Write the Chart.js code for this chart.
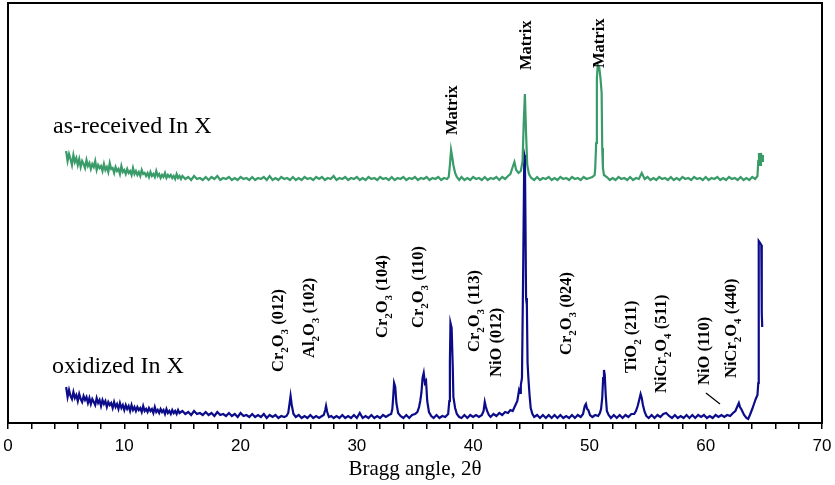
<!DOCTYPE html>
<html>
<head>
<meta charset="utf-8">
<script src="https://cdn.jsdelivr.net/npm/chart.js@4.4.0/dist/chart.umd.min.js"></script>
<style>
  html, body { margin: 0; padding: 0; background: #fff; }
  #wrap { width: 835px; height: 485px; position: relative; }
</style>
</head>
<body>
<div id="wrap"><canvas id="xrd-chart"></canvas></div>
<script>
// Data (intensity in arbitrary units)
const receivedAngles = [
  5, 5.125, 5.25, 5.375, 5.5, 5.625, 5.75, 5.875,
  6, 6.125, 6.25, 6.375, 6.5, 6.625, 6.75, 6.875,
  7, 7.125, 7.25, 7.375, 7.5, 7.625, 7.75, 7.875,
  8, 8.125, 8.25, 8.375, 8.5, 8.625, 8.75, 8.875,
  9, 9.125, 9.25, 9.375, 9.5, 9.625, 9.75, 9.875,
  10, 10.125, 10.25, 10.375, 10.5, 10.625, 10.75, 10.875,
  11, 11.125, 11.25, 11.375, 11.5, 11.625, 11.75, 11.875,
  12, 12.125, 12.25, 12.375, 12.5, 12.625, 12.75, 12.875,
  13, 13.125, 13.25, 13.375, 13.5, 13.625, 13.75, 13.875,
  14, 14.125, 14.25, 14.375, 14.5, 14.625, 14.75, 14.875,
  15, 15.25, 15.5, 15.75, 16, 16.25, 16.5, 16.75,
  17, 17.25, 17.5, 17.75, 18, 18.25, 18.5, 18.75,
  19, 19.25, 19.5, 19.75, 20, 20.25, 20.5, 20.75,
  21, 21.25, 21.5, 21.75, 22, 22.25, 22.5, 22.75,
  23, 23.25, 23.5, 23.75, 24, 24.25, 24.5, 24.75,
  25, 25.25, 25.5, 25.75, 26, 26.25, 26.5, 26.75,
  27, 27.25, 27.5, 27.75, 28, 28.25, 28.5, 28.75,
  29, 29.25, 29.5, 29.75, 30, 30.25, 30.5, 30.75,
  31, 31.25, 31.5, 31.75, 32, 32.25, 32.5, 32.75,
  33, 33.25, 33.5, 33.75, 34, 34.25, 34.5, 34.75,
  35, 35.25, 35.5, 35.75, 36, 36.25, 36.5, 36.75,
  37, 37.25, 37.5, 37.75,
  37.9, 38.0, 38.1, 38.2, 38.3, 38.45, 38.6, 38.8,
  39, 39.25, 39.5, 39.75, 40, 40.25, 40.5, 40.75,
  41, 41.25, 41.5, 41.75, 42, 42.25, 42.5, 42.75,
  43.0, 43.2, 43.4, 43.55, 43.7, 43.9, 44.1, 44.25, 44.35, 44.45, 44.55, 44.65, 44.8, 45.0,
  45.25, 45.5, 45.75, 46, 46.25, 46.5, 46.75, 47,
  47.25, 47.5, 47.75, 48, 48.25, 48.5, 48.75, 49,
  49.25, 49.5, 49.75, 50, 50.25,
  50.45, 50.5, 50.58, 50.64, 50.72, 50.85, 50.95, 51.05, 51.1, 51.16, 51.25,
  51.5, 51.75, 52, 52.25, 52.5, 52.75, 53, 53.25,
  53.5, 53.75, 54, 54.25, 54.5, 54.75, 55, 55.25,
  55.5, 55.75, 56, 56.25, 56.5, 56.75, 57, 57.25,
  57.5, 57.75, 58, 58.25, 58.5, 58.75, 59, 59.25,
  59.5, 59.75, 60, 60.25, 60.5, 60.75, 61, 61.25,
  61.5, 61.75, 62, 62.25, 62.5, 62.75, 63, 63.25,
  63.5, 63.75, 64, 64.25,
  64.45, 64.52, 64.58, 64.68, 64.75, 64.85, 64.92
];
const receivedCounts = [
  272, 262, 269, 264, 258, 268, 261, 265,
  258, 264, 256, 262, 259, 255, 263, 257,
  260, 254, 259, 256, 262, 253, 258, 255,
  257, 252, 259, 253, 256, 251, 260, 254,
  255, 250, 256, 252, 254, 249, 257, 251,
  253, 249, 254, 250, 252, 248, 255, 249,
  252, 248, 251, 247, 253, 249, 250, 247,
  250, 246, 251, 247, 249, 246, 252, 247,
  249, 245, 248, 246, 250, 245, 248, 246,
  248, 245, 247, 244, 249, 245, 247, 244,
  247, 244, 246, 243, 247, 244, 245, 243,
  246, 243, 246, 244, 247, 243, 245, 244,
  246, 243, 245, 243, 246, 244, 245, 243,
  246, 243, 245, 244, 246, 243, 247, 243,
  245, 243, 246, 244, 245, 243, 246, 243,
  245, 243, 246, 244, 245, 243, 246, 244,
  246, 243, 245, 244, 247, 243, 245, 244,
  246, 243, 245, 244, 246, 243, 245, 243,
  246, 244, 245, 243, 246, 244, 245, 243,
  246, 243, 245, 244, 246, 243, 245, 244,
  246, 243, 245, 244, 246, 243, 245, 244,
  246, 243, 245, 244,
  246, 258, 273, 266, 258, 250, 246, 243,
  246, 243, 245, 243, 246, 244, 245, 243,
  246, 243, 245, 244, 246, 243, 246, 244,
  247, 249, 256, 261, 253, 250, 252, 262, 300, 329, 290, 258, 249, 245,
  243, 246, 243, 245, 244, 246, 243, 245,
  243, 246, 244, 245, 243, 246, 244, 245,
  243, 246, 244, 245, 246,
  248, 255, 280, 345, 358, 355, 345, 330, 275, 255, 248,
  246, 243, 245, 243, 246, 244, 245, 243,
  246, 243, 245, 244, 250, 244, 246, 243,
  245, 243, 246, 244, 245, 243, 246, 243,
  245, 243, 246, 244, 245, 243, 246, 244,
  245, 243, 246, 243, 245, 244, 246, 243,
  245, 243, 246, 244, 245, 243, 246, 243,
  245, 243, 246, 244,
  247, 262, 270, 258, 270, 262, 268
];

const oxidizedAngles = [
  5, 5.125, 5.25, 5.375, 5.5, 5.625, 5.75, 5.875,
  6, 6.125, 6.25, 6.375, 6.5, 6.625, 6.75, 6.875,
  7, 7.125, 7.25, 7.375, 7.5, 7.625, 7.75, 7.875,
  8, 8.125, 8.25, 8.375, 8.5, 8.625, 8.75, 8.875,
  9, 9.125, 9.25, 9.375, 9.5, 9.625, 9.75, 9.875,
  10, 10.125, 10.25, 10.375, 10.5, 10.625, 10.75, 10.875,
  11, 11.125, 11.25, 11.375, 11.5, 11.625, 11.75, 11.875,
  12, 12.125, 12.25, 12.375, 12.5, 12.625, 12.75, 12.875,
  13, 13.125, 13.25, 13.375, 13.5, 13.625, 13.75, 13.875,
  14, 14.125, 14.25, 14.375, 14.5, 14.625, 14.75, 14.875,
  15, 15.25, 15.5, 15.75, 16, 16.25, 16.5, 16.75,
  17, 17.25, 17.5, 17.75, 18, 18.25, 18.5, 18.75,
  19, 19.25, 19.5, 19.75, 20, 20.25, 20.5, 20.75,
  21, 21.25, 21.5, 21.75, 22, 22.25, 22.5, 22.75,
  23, 23.25, 23.5, 23.75,
  23.95, 24.1, 24.22, 24.3, 24.4, 24.55, 24.75,
  25, 25.25, 25.5, 25.75, 26, 26.25, 26.5, 26.75, 27,
  27.15, 27.28, 27.35, 27.45, 27.6, 27.8,
  28, 28.25, 28.5, 28.75, 29, 29.25, 29.5, 29.75,
  30, 30.25, 30.5, 30.75, 31, 31.25, 31.5, 31.75,
  32, 32.25, 32.5, 32.75,
  32.95, 33.05, 33.12, 33.2, 33.3, 33.4, 33.55, 33.75,
  34, 34.25, 34.5, 34.75, 35,
  35.2, 35.35, 35.45, 35.55, 35.65, 35.75, 35.85, 35.95, 36.05, 36.2, 36.4,
  36.6, 36.85, 37.1, 37.35, 37.6, 37.85,
  37.95, 38.0, 38.05, 38.15, 38.25, 38.3, 38.45, 38.6, 38.8,
  39, 39.25, 39.5, 39.75, 40, 40.25, 40.5, 40.75,
  40.9, 41.0, 41.1, 41.2, 41.35,
  41.5, 41.75, 42, 42.25, 42.5, 42.75, 43, 43.2,
  43.4, 43.6, 43.8, 43.95, 44.05, 44.1, 44.2, 44.3, 44.4, 44.45, 44.5, 44.55, 44.62, 44.68, 44.75, 44.85, 44.95, 45.1,
  45.25, 45.5, 45.75, 46, 46.25, 46.5, 46.75, 47,
  47.25, 47.5, 47.75, 48, 48.25, 48.5, 48.75, 49,
  49.25,
  49.45, 49.6, 49.7, 49.8, 49.9, 50.05,
  50.25, 50.5, 50.75, 50.9,
  51.0, 51.1, 51.18, 51.25, 51.32, 51.4, 51.5, 51.65,
  51.85, 52.1, 52.35, 52.6, 52.85, 53.1, 53.35, 53.6, 53.85,
  54.0, 54.15, 54.3, 54.4, 54.5, 54.6, 54.75, 54.9,
  55.1, 55.35, 55.6, 55.85, 56.1, 56.35, 56.6, 56.85,
  57.1, 57.35, 57.6, 57.85, 58.1, 58.35, 58.6, 58.85,
  59.1, 59.35, 59.6, 59.85, 60.1, 60.35, 60.6, 60.85,
  61.1, 61.35, 61.6, 61.85, 62.1, 62.35,
  62.55, 62.7, 62.85, 62.95, 63.1, 63.3, 63.5, 63.65, 63.8, 64.0,
  64.15, 64.3, 64.45, 64.52, 64.56, 64.68, 64.78, 64.82, 64.86
];
const oxidizedCounts = [
  36, 26, 33, 27, 24, 31, 25, 28,
  22, 29, 24, 21, 27, 23, 26, 20,
  25, 19, 24, 21, 18, 25, 20, 23,
  17, 23, 19, 22, 16, 21, 18, 20,
  15, 21, 16, 19, 14, 20, 15, 18,
  13, 18, 14, 17, 12, 18, 13, 16,
  12, 16, 13, 15, 11, 17, 12, 14,
  11, 15, 12, 14, 10, 16, 11, 13,
  10, 14, 11, 13, 9, 14, 10, 12,
  9, 13, 10, 12, 9, 13, 10, 11,
  12, 9, 11, 8, 12, 9, 10, 8,
  11, 8, 10, 7, 11, 8, 9, 7,
  10, 7, 9, 6, 10, 7, 8, 6,
  9, 6, 8, 6, 9, 5, 8, 6,
  8, 5, 7, 6,
  7, 10, 20, 27, 18, 9, 6,
  8, 5, 7, 5, 8, 5, 7, 5, 7,
  8, 13, 17, 11, 6, 7,
  5, 7, 5, 8, 5, 7, 5, 8,
  5, 10, 5, 7, 5, 8, 5, 7,
  5, 8, 6, 8,
  9, 14, 25, 40, 36, 20, 10, 7,
  5, 8, 5, 8, 9,
  11, 16, 22, 30, 45, 50, 40, 42, 22, 11, 7,
  5, 8, 5, 7, 6, 9,
  22, 60, 100, 95, 55, 26, 15, 9, 6,
  5, 8, 5, 8, 6, 8, 6, 8,
  12, 21, 16, 12, 8,
  6, 9, 7, 10, 8, 11, 10, 13,
  12, 17, 22, 33, 30, 38, 45, 150, 268, 265, 200, 125, 118, 60, 45, 28, 15, 9,
  6, 8, 5, 8, 5, 8, 5, 8,
  5, 8, 5, 7, 5, 8, 5, 8,
  6,
  9, 17, 19, 14, 13, 8,
  6, 8, 7, 10,
  14, 25, 45, 53, 48, 28, 12, 8,
  5, 8, 5, 8, 5, 8, 6, 9, 9,
  12, 17, 24, 29, 25, 18, 11, 7,
  5, 8, 5, 8, 6, 9, 10, 7,
  5, 8, 5, 7, 5, 8, 5, 8,
  5, 8, 6, 8, 5, 7, 5, 8,
  6, 8, 6, 8, 7, 10,
  12, 16, 20, 16, 13, 8, 5, 4, 8, 14,
  19, 24, 28, 40, 182, 180, 178, 110, 96
];

// Axis ticks
const majorTicks = [0, 10, 20, 30, 40, 50, 60, 70];

// Phase labels (text, angle of text baseline, intensity where text starts)
const phaseLabels = ["Cr_2O_3 (012)", "Al_2O_3 (102)", "Cr_2O_3 (104)", "Cr_2O_3 (110)", "Cr_2O_3 (113)",
  "NiO (012)", "Cr_2O_3 (024)", "TiO_2 (211)", "NiCr_2O_4 (511)", "NiO (110)", "NiCr_2O_4 (440)",
  "Matrix", "Matrix", "Matrix"];
const phaseLabelAngles = [23.65, 26.31, 32.59, 35.69, 40.50, 42.40, 48.42, 54.00, 56.58, 60.28, 62.61, 38.61, 44.98, 51.25];
const phaseLabelHeights = [51, 65, 85, 95, 71, 46, 68, 50, 30, 38, 45, 288, 353, 355];

const seriesNames = ["as-received In X", "oxidized In X"];
const seriesNameAngles = [3.87, 3.78];
const seriesNameHeights = [290, 50];

const greenColor = "#389b68";
const blueColor = "#0c0c8a";

function toPoints(xs, ys) {
  return xs.map((x, i) => ({ x, y: ys[i] }));
}

// rotated label with "_n" subscripts
function drawVerticalLabel(ctx, text, px, py, size) {
  ctx.save();
  ctx.translate(px, py);
  ctx.rotate(-Math.PI / 2);
  ctx.fillStyle = "#000";
  ctx.textBaseline = "alphabetic";
  ctx.textAlign = "left";
  let cx = 0;
  for (const part of text.split(/(_\d)/)) {
    if (!part) continue;
    if (part[0] === "_") {
      ctx.font = `bold ${Math.round(size * 0.66)}px "Liberation Serif"`;
      ctx.fillText(part[1], cx, size * 0.3);
      cx += ctx.measureText(part[1]).width;
    } else {
      ctx.font = `bold ${size}px "Liberation Serif"`;
      ctx.fillText(part, cx, 0);
      cx += ctx.measureText(part).width;
    }
  }
  ctx.restore();
}

const decorPlugin = {
  id: "decor",
  afterDraw(chart) {
    const { ctx, chartArea: a, scales: { x, y } } = chart;
    ctx.save();
    // frame
    ctx.strokeStyle = "#000";
    ctx.lineWidth = 2;
    ctx.strokeRect(a.left, a.top, a.right - a.left, a.bottom - a.top);

    // series names
    ctx.fillStyle = "#000";
    ctx.font = '24px "Liberation Serif"';
    ctx.textBaseline = "alphabetic";
    seriesNames.forEach((name, i) => {
      ctx.fillText(name, x.getPixelForValue(seriesNameAngles[i]), y.getPixelForValue(seriesNameHeights[i]));
    });

    // phase labels
    phaseLabels.forEach((txt, i) => {
      drawVerticalLabel(ctx, txt, x.getPixelForValue(phaseLabelAngles[i]), y.getPixelForValue(phaseLabelHeights[i]), 16.5);
    });

    // pointer for NiO (110)
    ctx.strokeStyle = "#000";
    ctx.lineWidth = 1.2;
    ctx.beginPath();
    ctx.moveTo(x.getPixelForValue(60.02), y.getPixelForValue(30));
    ctx.lineTo(x.getPixelForValue(61.23), y.getPixelForValue(19));
    ctx.stroke();
    ctx.restore();
  }
};

new Chart(document.getElementById("xrd-chart"), {
  type: "line",
  data: {
    datasets: [
      {
        label: seriesNames[0],
        data: toPoints(receivedAngles, receivedCounts),
        borderColor: greenColor,
        borderWidth: 2.2,
        pointRadius: 0,
        tension: 0
      },
      {
        label: seriesNames[1],
        data: toPoints(oxidizedAngles, oxidizedCounts),
        borderColor: blueColor,
        borderWidth: 2.2,
        pointRadius: 0,
        tension: 0
      }
    ]
  },
  options: {
    animation: false,
    responsive: true,
    maintainAspectRatio: false,
    devicePixelRatio: 1,
    layout: { padding: { left: 8, right: 13, top: 3, bottom: 0 } },
    plugins: { legend: { display: false }, tooltip: { enabled: false } },
    scales: {
      x: {
        type: "linear",
        min: 0,
        max: 70,
        ticks: {
          stepSize: 2,
          autoSkip: false,
          maxRotation: 0,
          color: "#000",
          padding: 7,
          font: { family: "Liberation Sans", size: 17 },
          callback: v => majorTicks.includes(v) ? String(v) : ""
        },
        grid: { display: true, drawOnChartArea: false, drawTicks: true, tickLength: 6, color: "#000", lineWidth: 1.5 },
        border: { display: true, color: "#000", width: 2 },
        title: {
          display: true,
          text: "Bragg angle, 2θ",
          color: "#000",
          font: { family: "Liberation Serif", size: 21 },
          padding: { top: 0, bottom: 3 }
        },
        afterFit(scale) {
          scale.height = 62;
          scale.paddingLeft = 0;
          scale.paddingRight = 0;
        }
      },
      y: {
        display: false,
        min: 0,
        max: 420
      }
    }
  },
  plugins: [decorPlugin]
});
</script>
</body>
</html>
